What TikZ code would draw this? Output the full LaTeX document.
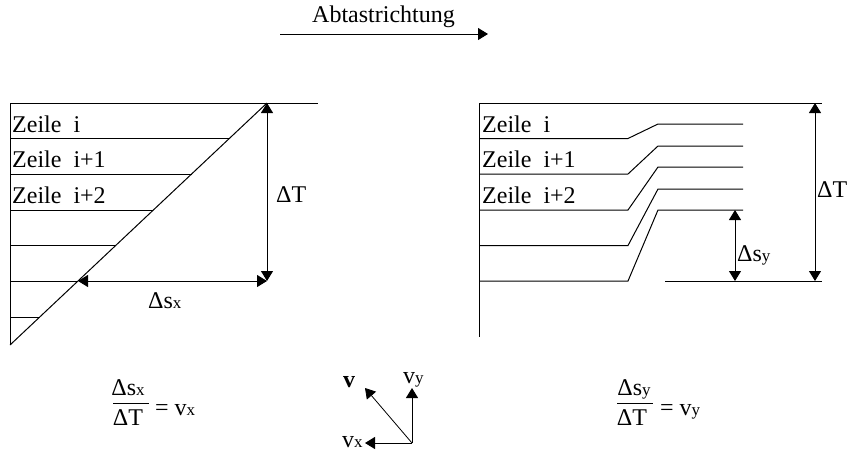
\documentclass[tikz,border=0pt]{standalone}
\usepackage{fontspec}
\setmainfont{Liberation Serif}
\usetikzlibrary{arrows.meta}
\newcommand{\smallletter}[1]{{\fontsize{17}{20}\selectfont #1}}
\begin{document}
\begin{tikzpicture}[x=1pt,y=-1pt,
  lbl/.style={inner sep=0pt, anchor=base west, font=\fontsize{24}{28}\selectfont},
  ln/.style={line width=1pt},
  tipA/.style={line width=1pt, {Triangle[length=10pt,width=12pt]}-{Triangle[length=10pt,width=12pt]}},
  tipB/.style={line width=1pt, -{Triangle[length=10pt,width=12pt]}}]
\useasboundingbox (0,0) rectangle (849,453);

% ---------- top direction arrow ----------
\node[lbl, anchor=base] (dir) at (383.5,22) {Abtastrichtung};
\coordinate (DA) at (280,34);
\coordinate (DB) at (488,34);
\draw[tipB] (DA) -- (DB);

% ---------- left diagram ----------
\coordinate (LTL) at (10,103);
\coordinate (LTR) at (318,103);
\coordinate (LBL) at (10,345);
\coordinate (LA) at (267,103);
\coordinate (LB) at (267,281);
\draw[ln] (LTL) -- (LTR);
\draw[ln] (LTL) -- (LBL);
\draw[ln] (LBL) -- (LA);
\foreach \i/\y/\x in {1/138.5/229.3, 2/174/191.6, 3/210/153.4, 4/245.5/115.7, 5/281/78, 6/317/39.7}{
  \coordinate (La\i) at (10,\y);
  \coordinate (Lb\i) at (\x,\y);
  \draw[ln] (La\i) -- (Lb\i);
}
\draw[tipA] (LA) -- (LB);
\draw[tipA] (Lb5) -- (LB);
\node[lbl] (lz1) at (12,132) {Zeile~~i};
\node[lbl] (lz2) at (12,167) {Zeile~~i+1};
\node[lbl] (lz3) at (12,203) {Zeile~~i+2};
\node[lbl] (ldT) at (276,202) {ΔT};
\node[lbl] (ldsx) at (148,308) {Δs\smallletter{x}};

% ---------- right diagram ----------
\coordinate (RTL) at (479,103);
\coordinate (RTR) at (822,103);
\coordinate (RBL) at (479,337);
\draw[ln] (RTL) -- (RTR);
\draw[ln] (RTL) -- (RBL);
\foreach \i/\y/\yy in {1/138.5/124, 2/174/146, 3/210/167, 4/245.5/189, 5/281/210}{
  \coordinate (Ra\i) at (479,\y);
  \coordinate (Rb\i) at (628,\y);
  \coordinate (Rc\i) at (658,\yy);
  \coordinate (Rd\i) at (743,\yy);
  \draw[ln] (Ra\i) -- (Rb\i) -- (Rc\i) -- (Rd\i);
}
\coordinate (RBa) at (665,281);
\coordinate (RBb) at (822,281);
\draw[ln] (RBa) -- (RBb);
\coordinate (RT1) at (815,103);
\coordinate (RT2) at (815,281);
\draw[tipA] (RT1) -- (RT2);
\coordinate (RS1) at (735,210);
\coordinate (RS2) at (735,281);
\draw[tipA] (RS1) -- (RS2);
\node[lbl] (rz1) at (482,132) {Zeile~~i};
\node[lbl] (rz2) at (482,167) {Zeile~~i+1};
\node[lbl] (rz3) at (482,203) {Zeile~~i+2};
\node[lbl] (rdT) at (817,197) {ΔT};
\node[lbl] (rdsy) at (737,261) {Δs\smallletter{y}};

% ---------- left formula ----------
\node[lbl, anchor=base] (fxn) at (128,395) {Δs\smallletter{x}};
\node[lbl, anchor=base] (fxd) at (128,425) {ΔT};
\coordinate (FXa) at (113,403);
\coordinate (FXb) at (149,403);
\draw[ln] (FXa) -- (FXb);
\node[lbl] (fxe) at (155,415) {= v\smallletter{x}};

% ---------- right formula ----------
\node[lbl, anchor=base] (fyn) at (634,395) {Δs\smallletter{y}};
\node[lbl, anchor=base] (fyd) at (632,425) {ΔT};
\coordinate (FYa) at (617,403);
\coordinate (FYb) at (653,403);
\draw[ln] (FYa) -- (FYb);
\node[lbl] (fye) at (660,415) {= v\smallletter{y}};

% ---------- velocity vectors ----------
\coordinate (O) at (412,443);
\coordinate (VY) at (412,388);
\coordinate (VX) at (365,443);
\coordinate (V) at (365,388);
\draw[tipB] (O) -- (VY);
\draw[tipB] (O) -- (VX);
\draw[tipB, line width=0.8pt] (O) -- (V);
\node[lbl] (lv) at (343,387) {\textbf{v}};
\node[lbl] (lvy) at (403,383) {v\smallletter{y}};
\node[lbl] (lvx) at (342,447) {v\smallletter{x}};
\end{tikzpicture}
\end{document}
